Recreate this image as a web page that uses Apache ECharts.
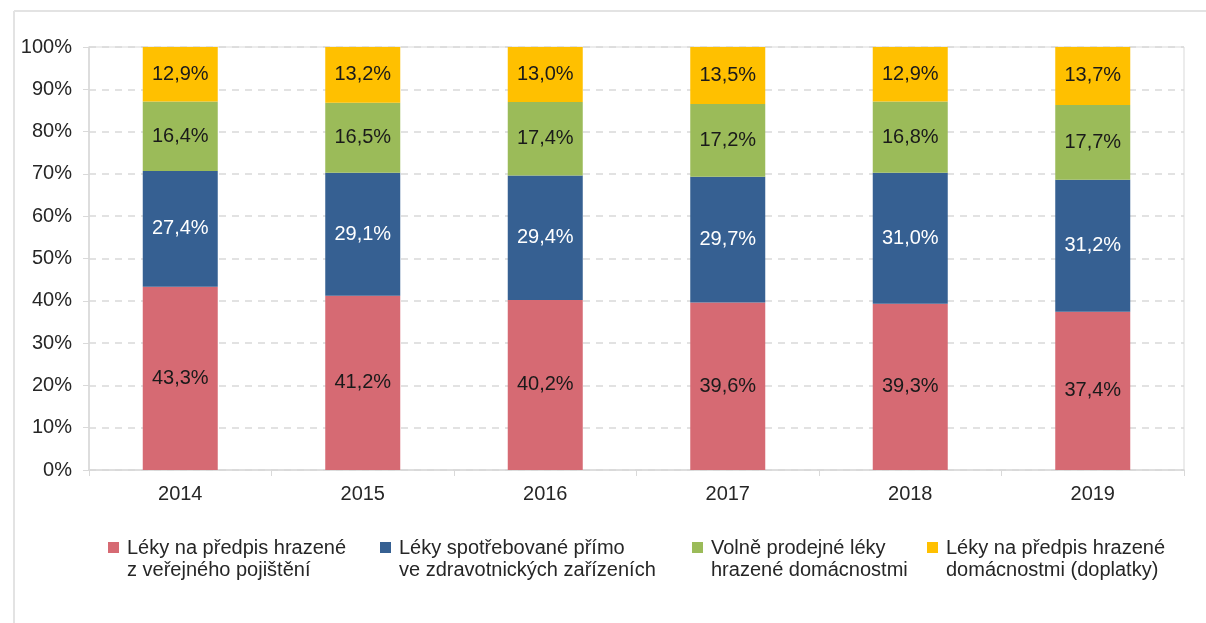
<!DOCTYPE html>
<html><head><meta charset="utf-8">
<script src="https://cdn.jsdelivr.net/npm/echarts@6/dist/echarts.min.js"></script>
<style>html,body{margin:0;padding:0;background:#fff}#c{width:1206px;height:623px}</style>
</head><body><div id="c"></div>
<script>
const years = ['2014','2015','2016','2017','2018','2019'];
const seriesNames = ['Léky na předpis hrazené\nz veřejného pojištění','Léky spotřebované přímo\nve zdravotnických zařízeních','Volně prodejné léky\nhrazené domácnostmi','Léky na předpis hrazené\ndomácnostmi (doplatky)'];
const insured = [43.3,41.2,40.2,39.6,39.3,37.4];
const facilities = [27.4,29.1,29.4,29.7,31.0,31.2];
const otc = [16.4,16.5,17.4,17.2,16.8,17.7];
const copay = [12.9,13.2,13.0,13.5,12.9,13.7];
const colors = ['#D66A73','#366092','#9BBB59','#FFC000'];
const labelColors = ['#1a1a1a','#ffffff','#1a1a1a','#1a1a1a'];
const values = [insured,facilities,otc,copay];
const font = 'Liberation Sans, Arial, sans-serif';
const chart = echarts.init(document.getElementById('c'));
const legendLefts = [103,375,687,922];
const topSquare = 'path://M0,0h0.01v0.01h-0.01zM0,5h11v11h-11zM0,43.99h0.01v0.01h-0.01z';
chart.setOption({
  animation:false,
  textStyle:{fontFamily:font},
  graphic:[
    {type:'line',shape:{x1:14,y1:11,x2:1206,y2:11},style:{stroke:'#e3e3e3',lineWidth:2}},
    {type:'line',shape:{x1:14,y1:11,x2:14,y2:623},style:{stroke:'#e3e3e3',lineWidth:2}}
  ],
  grid:{left:89,right:22,top:47,bottom:153,show:true,borderColor:'#d9d9d9',borderWidth:1},
  legend: seriesNames.map((n,i)=>({
    data:[{name:n,icon:topSquare}],left:legendLefts[i],top:532,itemWidth:11,itemHeight:44,itemGap:8,
    symbolKeepAspect:true,
    textStyle:{fontSize:20,color:'#262626',fontFamily:font,lineHeight:22,padding:[0,0,0,3]},
    selectedMode:false
  })),
  xAxis:{type:'category',data:years,
    axisLine:{lineStyle:{color:'#d9d9d9',width:1.5}},
    axisTick:{show:true,length:6,lineStyle:{color:'#d9d9d9'}},
    axisLabel:{fontSize:20,color:'#262626',margin:14,fontFamily:font}},
  yAxis:{type:'value',min:0,max:100,interval:10,
    axisLine:{show:true,lineStyle:{color:'#d9d9d9',width:1.5}},
    axisTick:{show:true,length:6,lineStyle:{color:'#d9d9d9'}},
    splitLine:{lineStyle:{color:'#d9d9d9',type:[7,6],width:1.5}},
    axisLabel:{formatter:'{value}%',fontSize:20,color:'#262626',margin:17,fontFamily:font}},
  series: values.map((v,i)=>({
    name:seriesNames[i],type:'bar',stack:'a',data:v,barWidth:75,
    itemStyle:{color:colors[i]},
    label:{show:true,position:'inside',color:labelColors[i],fontSize:20,fontFamily:font,
      formatter:p=>p.value.toFixed(1).replace('.',',')+'%'}
  }))
});
</script></body></html>
